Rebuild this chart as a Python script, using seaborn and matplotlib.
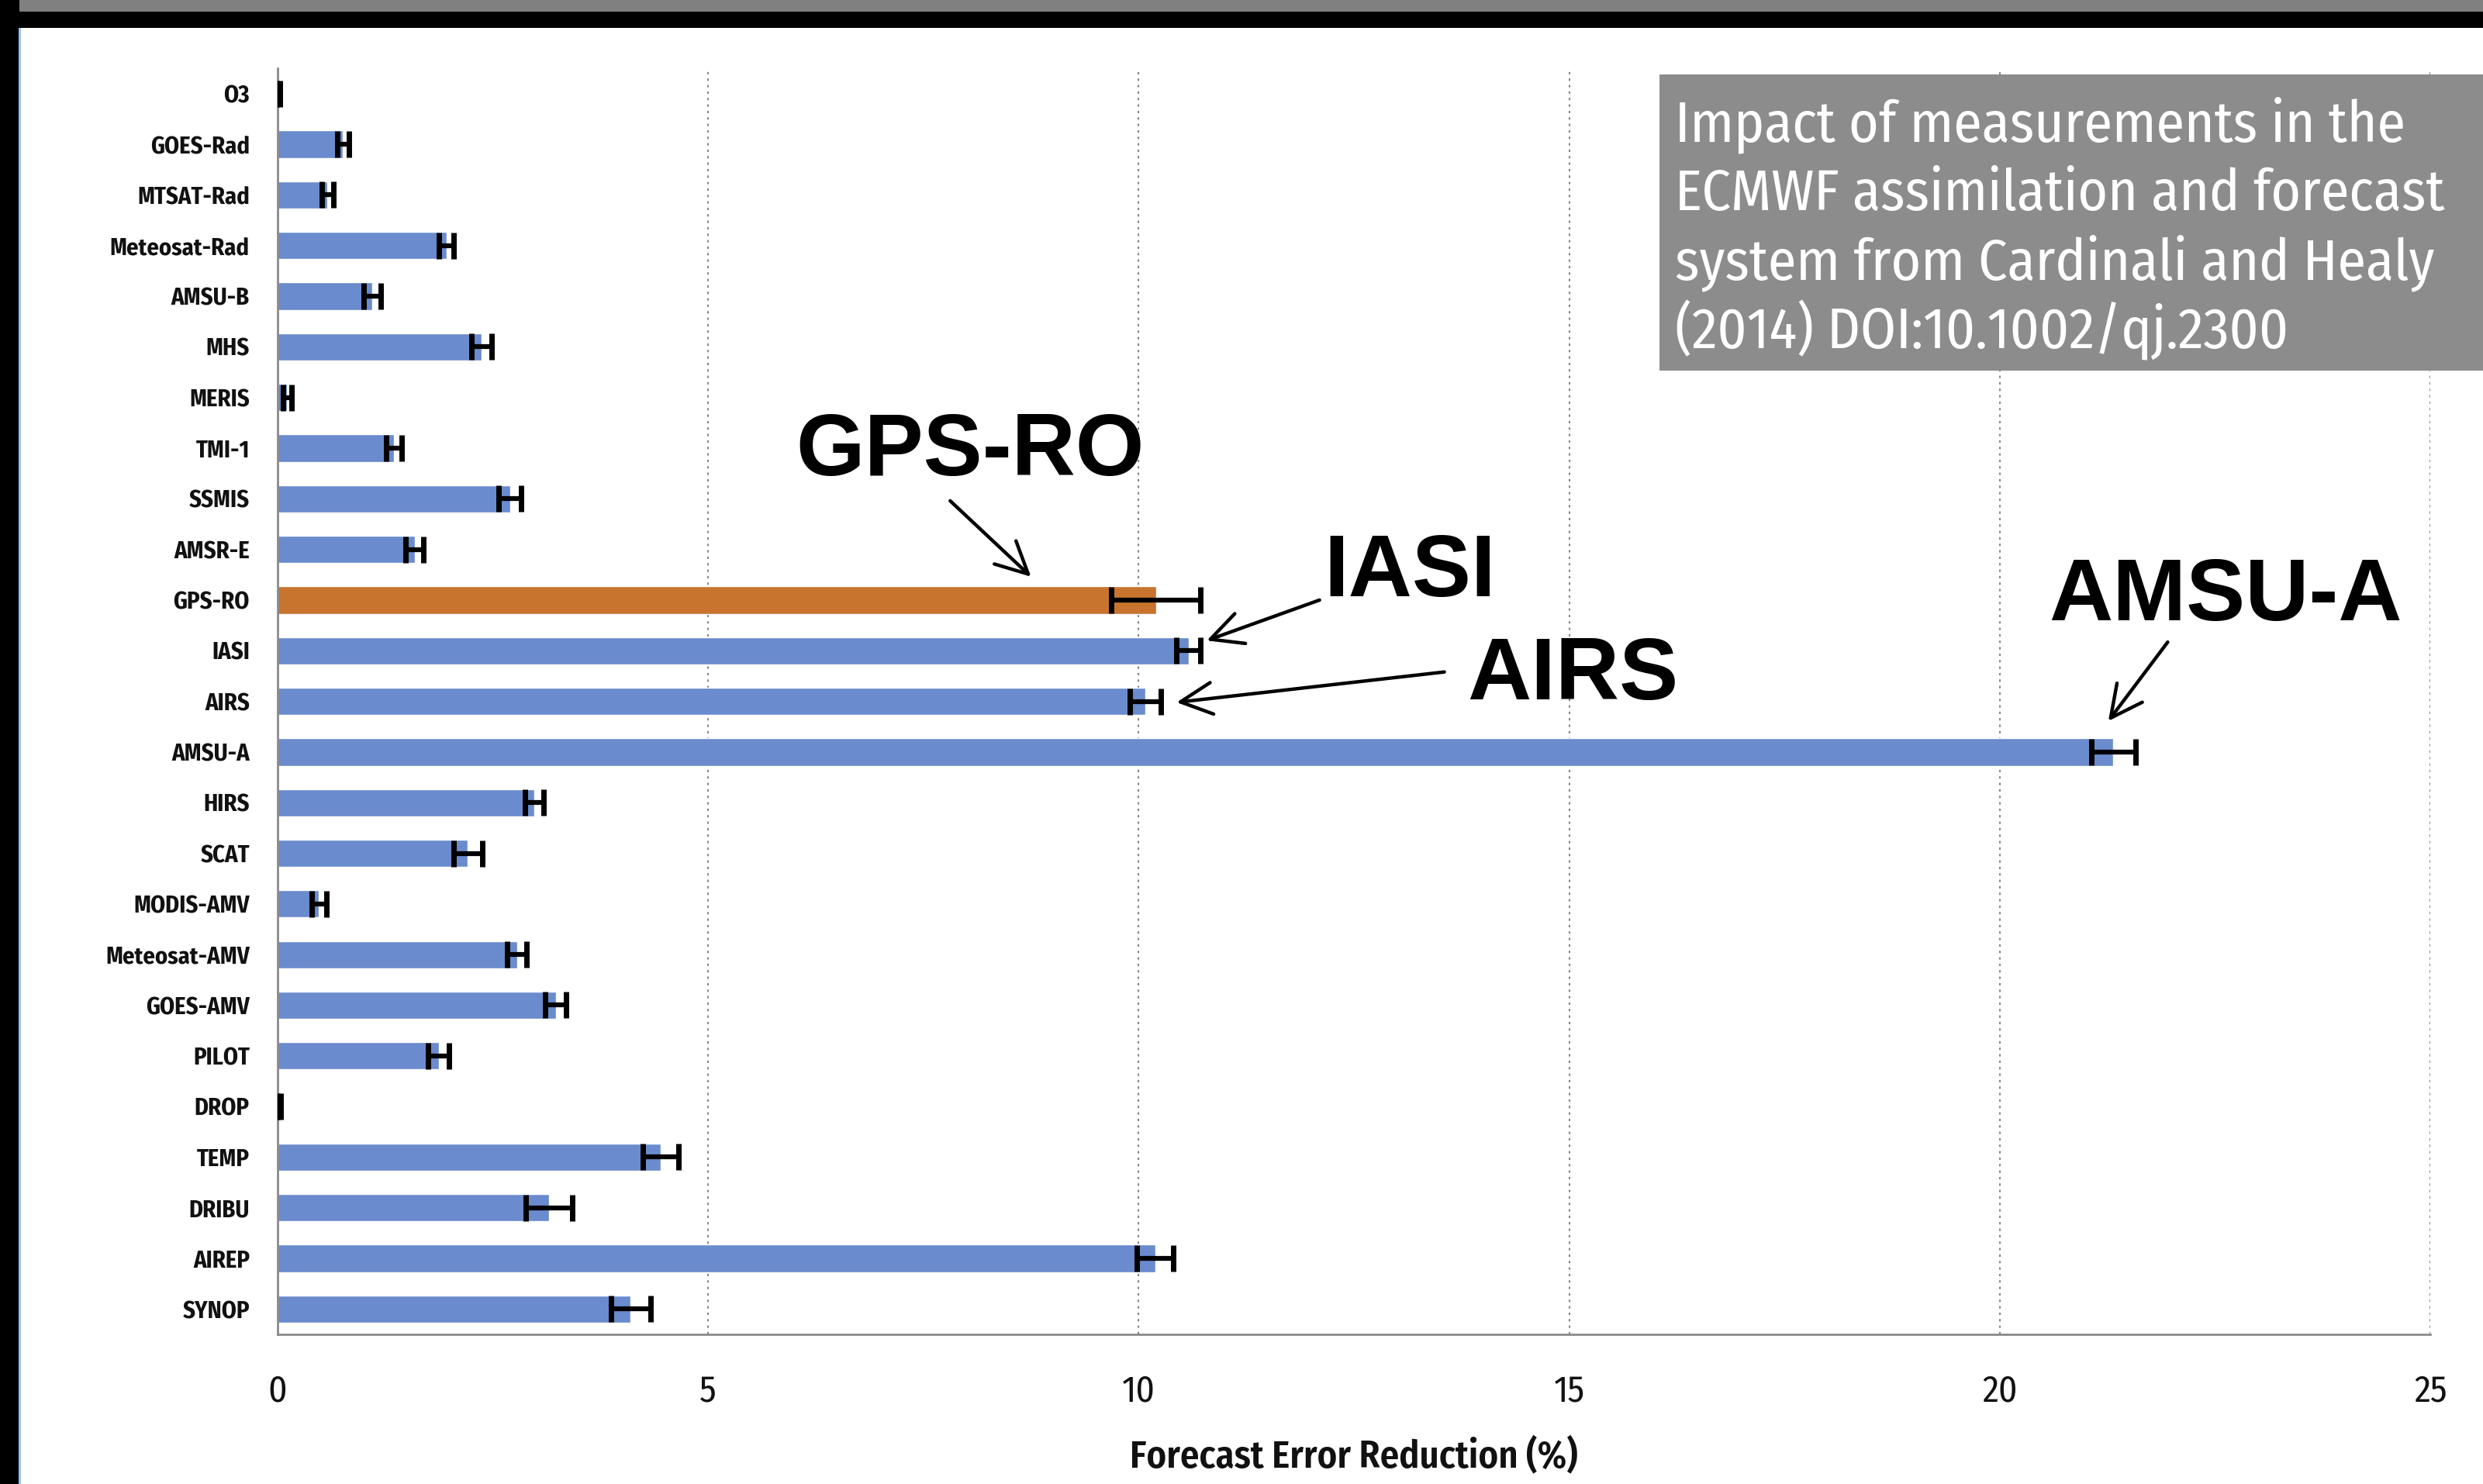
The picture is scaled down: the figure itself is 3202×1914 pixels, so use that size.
import numpy as np
import pandas as pd
import matplotlib
matplotlib.use("Agg")
import matplotlib.pyplot as plt
from matplotlib import font_manager as fm
from matplotlib.patches import Rectangle
import seaborn as sns

# observing systems, top to bottom
sensors = ['O3', 'GOES-Rad', 'MTSAT-Rad', 'Meteosat-Rad', 'AMSU-B', 'MHS', 'MERIS',
           'TMI-1', 'SSMIS', 'AMSR-E', 'GPS-RO', 'IASI', 'AIRS', 'AMSU-A', 'HIRS',
           'SCAT', 'MODIS-AMV', 'Meteosat-AMV', 'GOES-AMV', 'PILOT', 'DROP', 'TEMP',
           'DRIBU', 'AIREP', 'SYNOP']
# forecast error reduction (%)
impact = [0.01, 0.76, 0.58, 1.96, 1.10, 2.37, 0.11, 1.35, 2.70, 1.59, 10.20, 10.58,
          10.08, 21.32, 2.98, 2.21, 0.48, 2.78, 3.23, 1.87, 0.02, 4.45, 3.15, 10.19, 4.10]
impact_err = [0.02, 0.07, 0.07, 0.085, 0.10, 0.12, 0.05, 0.09, 0.13, 0.10, 0.52, 0.14,
              0.18, 0.26, 0.11, 0.17, 0.085, 0.11, 0.12, 0.12, 0.02, 0.21, 0.27, 0.21, 0.23]
highlight = 'GPS-RO'

x_ticks = [0, 5, 10, 15, 20, 25]
box_lines = ['Impact of measurements in the',
             'ECMWF assimilation and forecast',
             'system from Cardinali and Healy',
             '(2014) DOI:10.1002/qj.2300']
# big call-out labels: (text, text pos, arrow start, arrow tip) in data units
callouts = [
    ('GPS-RO', (8.04, 7.1), (7.81, 8.04), (8.75, 9.54)),
    ('IASI', (13.15, 9.48), (12.1, 10.0), (10.79, 10.8)),
    ('AIRS', (15.04, 11.52), (13.55, 11.42), (10.44, 12.02)),
    ('AMSU-A', (22.62, 9.95), (21.95, 10.83), (21.26, 12.39)),
]

BLUE = '#6a8bcd'
ORANGE = '#c8742e'


def has_font(name):
    try:
        fm.findfont(fm.FontProperties(family=name), fallback_to_default=False)
        return True
    except ValueError:
        return False


# condensed face for the Excel-ish labels, with a plain fallback
if has_font('Fira Sans Condensed'):
    COND = ['Fira Sans Condensed', 'DejaVu Sans']
    box_size, ytick_size, xtick_size, xlab_size = 53, 22, 34, 35
else:
    COND = ['Liberation Sans', 'DejaVu Sans']
    box_size, ytick_size, xtick_size, xlab_size = 46, 19, 32, 32

sns.set_theme(style='white')
plt.rcParams['font.family'] = COND

df = pd.DataFrame({'sensor': sensors, 'impact': impact, 'err': impact_err})
df['group'] = np.where(df['sensor'] == highlight, 'hl', 'other')

fig = plt.figure(figsize=(32.02, 19.14), dpi=100, facecolor='white')
ax = fig.add_axes([0.1118, 0.1008, 0.8670, 0.8532])

sns.barplot(data=df, x='impact', y='sensor', hue='group', orient='h',
            palette={'hl': ORANGE, 'other': BLUE}, dodge=False, legend=False,
            width=0.54, saturation=1, ax=ax, zorder=2)
ax.errorbar(df['impact'], np.arange(len(df)), xerr=df['err'], fmt='none',
            ecolor='black', elinewidth=4.5, capsize=12, capthick=5, zorder=3)

ax.set_xlim(0, 25)
ax.set_ylim(len(sensors) - 0.5, -0.5)
ax.set_xticks(x_ticks)
ax.set_xticklabels([str(t) for t in x_ticks], fontsize=xtick_size, color='#111111')
ax.tick_params(axis='x', length=8, width=1.5, color='#888888', pad=28, direction='out')
ax.tick_params(axis='y', length=0, pad=26)
for lab in ax.get_yticklabels():
    lab.set_fontsize(ytick_size)
    lab.set_fontweight('bold')
    lab.set_color('#111111')
ax.set_ylabel('')
ax.set_xlabel('Forecast Error Reduction (%)', fontsize=xlab_size, fontweight='semibold',
              color='#111111', labelpad=26)

ax.xaxis.grid(True, linestyle=(0, (1.5, 2.5)), color='#888888', linewidth=1.5, zorder=0)
ax.yaxis.grid(False)
ax.set_axisbelow(True)
for side in ['top', 'right']:
    ax.spines[side].set_visible(False)
for side in ['left', 'bottom']:
    ax.spines[side].set_color('#8a8a8a')
    ax.spines[side].set_linewidth(2)

for label, txt_pos, start, tip in callouts:
    ax.text(txt_pos[0], txt_pos[1], label, fontsize=82, fontweight='bold',
            family=['Liberation Sans', 'DejaVu Sans'], ha='center', va='center',
            color='black', zorder=5)
    ax.annotate('', xy=tip, xytext=start,
                arrowprops=dict(arrowstyle='->,head_length=0.7,head_width=0.35',
                                lw=3.2, color='black', mutation_scale=42,
                                shrinkA=0, shrinkB=0), zorder=5)

# slide frame: black left strip, grey + black bands at the top
fig.patches.append(Rectangle((0, 0), 24 / 3202, 1, transform=fig.transFigure,
                             facecolor='black', edgecolor='none', zorder=10))
fig.patches.append(Rectangle((0, 1 - 36 / 1914), 1, 36 / 1914, transform=fig.transFigure,
                             facecolor='black', edgecolor='none', zorder=10))
fig.patches.append(Rectangle((25 / 3202, 1 - 15 / 1914), 1, 15 / 1914,
                             transform=fig.transFigure, facecolor='#808080',
                             edgecolor='none', zorder=11))
fig.patches.append(Rectangle((24 / 3202, 0), 3 / 3202, 1 - 36 / 1914,
                             transform=fig.transFigure, facecolor='#9cc3f0',
                             edgecolor='none', zorder=10))

# grey caption box
fig.patches.append(Rectangle((2140 / 3202, 1 - 478 / 1914), 1062 / 3202, 382 / 1914,
                             transform=fig.transFigure, facecolor='#8c8c8c',
                             edgecolor='none', zorder=10))
for i, line in enumerate(box_lines):
    fig.text(2160 / 3202, 1 - (182 + i * 89) / 1914, line, fontsize=box_size,
             color='white', ha='left', va='baseline', zorder=12)

fig.savefig('out.png', dpi=100, facecolor='white')
